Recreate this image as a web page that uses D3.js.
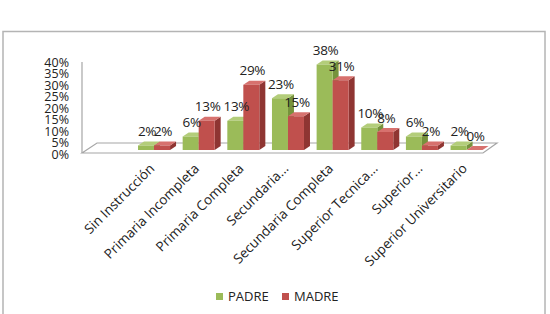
<!DOCTYPE html>
<html>
<head>
<meta charset="utf-8">
<script src="https://cdnjs.cloudflare.com/ajax/libs/d3/7.8.5/d3.min.js"></script>
<style>
  body { margin: 0; background: #fff; }
  text { font-family: "Open Sans", sans-serif; fill: #222; }
</style>
</head>
<body>
<svg id="chart" width="550" height="314"></svg>
<script>
var categories = ["Sin Instrucción", "Primaria Incompleta", "Primaria Completa", "Secundaria...",
                  "Secundaria Completa", "Superior Tecnica...", "Superior...", "Superior Universitario"];
var series = ["PADRE", "MADRE"];
var padre = [2, 6, 13, 23, 38, 10, 6, 2];
var madre = [2, 13, 29, 15, 31, 8, 2, 0];
var yTicks = [0, 5, 10, 15, 20, 25, 30, 35, 40];

var colors = {
  PADRE: { front: "#9bbb59", top: "#b3cd7a", side: "#76923c" },
  MADRE: { front: "#c0504d", top: "#d7716e", side: "#8f3532" }
};

var svg = d3.select("#chart");

// outer frame
svg.append("rect")
    .attr("x", 3).attr("y", 31.5)
    .attr("width", 542).attr("height", 300)
    .attr("fill", "none")
    .attr("stroke", "#b4b4b4")
    .attr("stroke-width", 1.5);

var x0 = d3.scaleBand().domain(categories).range([131.7, 488.9]).paddingInner(0.283).paddingOuter(0.1415);
var x1 = d3.scaleBand().domain(series).range([0, x0.bandwidth()]);
var yAxisScale = d3.scaleLinear().domain([0, 40]).range([154.5, 62.5]);
var yBar = d3.scaleLinear().domain([0, 40]).range([150, 60]);

var dx = 6, dy = -4;

// floor + wall edge
svg.append("polygon")
    .attr("points", [[82, 153], [97, 143], [497, 143], [483, 153]].join(" "))
    .attr("fill", "#fff")
    .attr("stroke", "#a6a6a6")
    .attr("stroke-width", 1.2);
svg.append("line")
    .attr("x1", 82).attr("y1", 62).attr("x2", 82).attr("y2", 153)
    .attr("stroke", "#a6a6a6").attr("stroke-width", 1.2);

// y tick labels
svg.append("g").selectAll("text")
    .data(yTicks)
    .enter().append("text")
      .attr("x", 69)
      .attr("y", function(d) { return yAxisScale(d); })
      .attr("dy", "0.35em")
      .attr("text-anchor", "end")
      .attr("font-size", 12.5)
      .text(function(d) { return d + "%"; });

var rows = [];
categories.forEach(function(c, i) {
  rows.push({ cat: c, s: "PADRE", v: padre[i] });
  rows.push({ cat: c, s: "MADRE", v: madre[i] });
});

var bars = svg.append("g").selectAll("g")
    .data(rows)
    .enter().append("g");

bars.each(function(d) {
  var g = d3.select(this);
  var xl = x0(d.cat) + x1(d.s), w = x1.bandwidth();
  var yt = yBar(d.v), yb = yBar(0);
  var c = colors[d.s];
  g.append("polygon")
      .attr("points", [[xl + w, yt], [xl + w + dx, yt + dy], [xl + w + dx, yb + dy], [xl + w, yb]].join(" "))
      .attr("fill", c.side);
  g.append("polygon")
      .attr("points", [[xl, yt], [xl + dx, yt + dy], [xl + w + dx, yt + dy], [xl + w, yt]].join(" "))
      .attr("fill", c.top);
  g.append("rect")
      .attr("x", xl).attr("y", yt)
      .attr("width", w).attr("height", Math.max(0, yb - yt))
      .attr("fill", c.front);
});

// value labels
svg.append("g").selectAll("text")
    .data(rows)
    .enter().append("text")
      .attr("x", function(d) { return x0(d.cat) + x1(d.s) + x1.bandwidth() / 2 + 1; })
      .attr("y", function(d) { return yBar(d.v) - 14; })
      .attr("dy", "0.35em")
      .attr("text-anchor", "middle")
      .attr("font-size", 13.5)
      .attr("letter-spacing", -0.3)
      .text(function(d) { return d.v + "%"; });

// category labels
svg.append("g").selectAll("text")
    .data(categories)
    .enter().append("text")
      .attr("transform", function(d) {
        return "translate(" + (x0(d) + x0.bandwidth() / 2 - 2) + ",166) rotate(-45)";
      })
      .attr("dy", "0.35em")
      .attr("text-anchor", "end")
      .attr("font-size", 13.5)
      .text(function(d) { return d; });

// legend
var legend = svg.append("g").selectAll("g")
    .data(series)
    .enter().append("g")
      .attr("transform", function(d, i) { return "translate(" + (216 + i * 66) + ",293)"; });
legend.append("rect")
    .attr("width", 7).attr("height", 7)
    .attr("fill", function(d) { return colors[d].front; });
legend.append("text")
    .attr("x", 12).attr("y", 3.5)
    .attr("dy", "0.35em")
    .attr("font-size", 13)
    .text(function(d) { return d; });
</script>
</body>
</html>
